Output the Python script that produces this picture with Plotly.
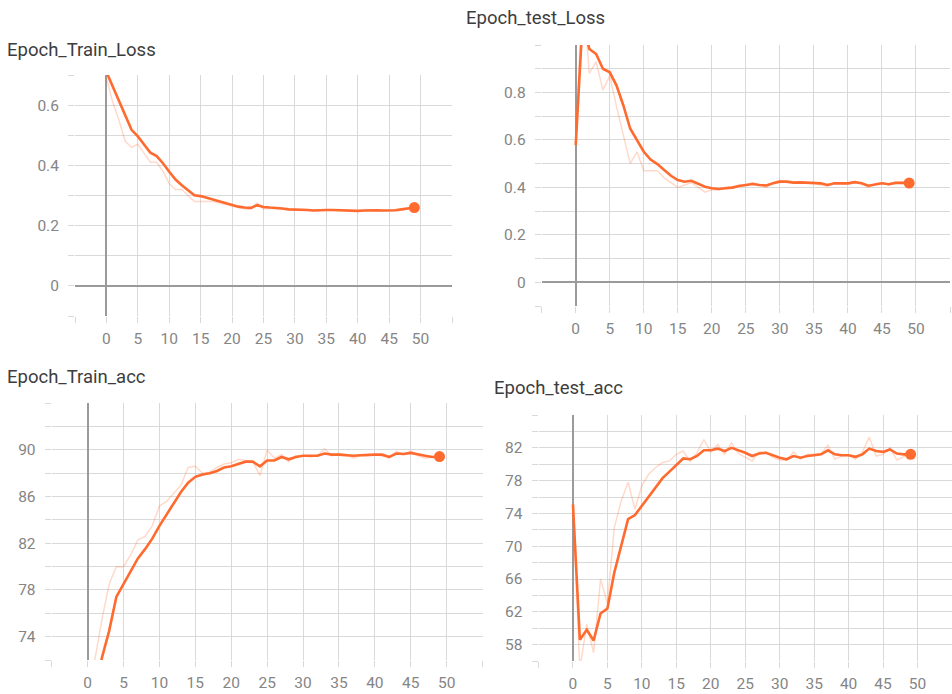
import plotly.graph_objects as go

epochs = list(range(50))

train_loss_smooth = [0.71, 0.662, 0.612, 0.562, 0.518, 0.496, 0.468, 0.442, 0.431, 0.407,
                     0.379, 0.353, 0.334, 0.318, 0.301, 0.298, 0.292, 0.285, 0.281, 0.274,
                     0.268, 0.263, 0.260, 0.259, 0.268, 0.262, 0.260, 0.259, 0.257, 0.254,
                     0.254, 0.253, 0.252, 0.250, 0.252, 0.252, 0.252, 0.251, 0.251, 0.250,
                     0.249, 0.250, 0.251, 0.251, 0.250, 0.250, 0.251, 0.254, 0.256, 0.260]
train_loss_raw = [0.69, 0.61, 0.55, 0.48, 0.46, 0.47, 0.44, 0.41, 0.41, 0.38,
                  0.34, 0.32, 0.32, 0.30, 0.28, 0.28, 0.28, 0.28, 0.275, 0.27,
                  0.265, 0.26, 0.255, 0.255, 0.275, 0.255, 0.258, 0.256, 0.255, 0.252,
                  0.253, 0.252, 0.251, 0.249, 0.253, 0.251, 0.252, 0.250, 0.251, 0.249,
                  0.248, 0.251, 0.252, 0.250, 0.249, 0.249, 0.252, 0.256, 0.257, 0.262]

test_loss_smooth = [0.578, 1.10, 0.983, 0.962, 0.900, 0.885, 0.829, 0.745, 0.648, 0.599,
                    0.550, 0.517, 0.498, 0.473, 0.449, 0.431, 0.424, 0.428, 0.417, 0.403,
                    0.396, 0.393, 0.396, 0.399, 0.406, 0.410, 0.414, 0.410, 0.408, 0.417,
                    0.424, 0.424, 0.420, 0.421, 0.420, 0.421, 0.417, 0.410, 0.417, 0.417,
                    0.417, 0.422, 0.417, 0.407, 0.413, 0.417, 0.413, 0.419, 0.419, 0.418]
test_loss_raw = [0.578, 1.25, 0.88, 0.93, 0.81, 0.87, 0.74, 0.62, 0.50, 0.55,
                 0.47, 0.47, 0.47, 0.44, 0.42, 0.40, 0.41, 0.42, 0.40, 0.38,
                 0.39, 0.39, 0.40, 0.40, 0.41, 0.41, 0.42, 0.41, 0.40, 0.42,
                 0.43, 0.42, 0.42, 0.42, 0.42, 0.42, 0.41, 0.405, 0.42, 0.415,
                 0.415, 0.425, 0.415, 0.40, 0.415, 0.42, 0.41, 0.42, 0.42, 0.418]

train_acc_smooth = [66.0, 69.3, 72.2, 74.5, 77.4, 78.5, 79.7, 80.7, 81.5, 82.4,
                    83.5, 84.5, 85.4, 86.4, 87.2, 87.7, 87.9, 88.0, 88.2, 88.5,
                    88.6, 88.8, 89.0, 89.0, 88.6, 89.1, 89.1, 89.4, 89.2, 89.4,
                    89.5, 89.5, 89.5, 89.7, 89.6, 89.6, 89.55, 89.5, 89.55, 89.6,
                    89.6, 89.6, 89.4, 89.7, 89.65, 89.75, 89.6, 89.5, 89.4, 89.43]
train_acc_raw = [67.0, 72.0, 75.5, 78.5, 80.0, 80.0, 81.0, 82.3, 82.6, 83.5,
                 85.2, 85.6, 86.3, 87.0, 88.5, 88.6, 88.0, 88.1, 88.5, 88.8,
                 88.9, 89.2, 89.1, 89.0, 87.8, 90.0, 89.3, 89.6, 89.0, 89.5,
                 89.5, 89.4, 89.5, 90.1, 89.5, 89.7, 89.6, 89.3, 89.5, 89.5,
                 89.6, 89.5, 89.3, 89.9, 89.6, 89.9, 89.5, 89.3, 89.4, 89.4]

test_acc_smooth = [75.1, 58.6, 59.8, 58.5, 61.8, 62.4, 66.8, 70.1, 73.3, 73.8,
                   74.9, 76.1, 77.2, 78.3, 79.1, 79.9, 80.7, 80.6, 81.0, 81.7,
                   81.7, 81.9, 81.6, 82.0, 81.7, 81.4, 81.0, 81.3, 81.4, 81.1,
                   80.8, 80.6, 81.0, 80.8, 81.0, 81.1, 81.2, 81.7, 81.2, 81.1,
                   81.1, 80.9, 81.2, 81.9, 81.6, 81.5, 81.8, 81.3, 81.2, 81.2]
test_acc_raw = [75.1, 55.0, 60.5, 57.0, 66.0, 63.0, 72.3, 75.5, 77.8, 74.5,
                77.4, 78.8, 79.6, 80.2, 80.4, 81.2, 81.6, 80.3, 81.4, 83.0,
                81.5, 82.4, 81.2, 82.6, 81.3, 80.8, 80.4, 81.5, 81.5, 80.8,
                80.5, 80.5, 81.5, 80.6, 81.2, 81.2, 81.3, 82.3, 80.6, 81.0,
                81.1, 80.6, 81.5, 83.3, 81.0, 81.2, 82.0, 80.5, 80.9, 81.1]

titles = ["Epoch_Train_Loss", "Epoch_test_Loss", "Epoch_Train_acc", "Epoch_test_acc"]

x_tickvals = [-5, 0, 5, 10, 15, 20, 25, 30, 35, 40, 45, 50, 55]
x_ticktext = ["", "0", "5", "10", "15", "20", "25", "30", "35", "40", "45", "50", ""]

loss1_tickvals = [-0.1, 0, 0.1, 0.2, 0.3, 0.4, 0.5, 0.6, 0.7]
loss1_ticktext = ["", "0", "", "0.2", "", "0.4", "", "0.6", ""]
loss2_tickvals = [-0.1, 0, 0.1, 0.2, 0.3, 0.4, 0.5, 0.6, 0.7, 0.8, 0.9, 1.0]
loss2_ticktext = ["", "0", "", "0.2", "", "0.4", "", "0.6", "", "0.8", "", ""]
acc1_tickvals = [72, 74, 76, 78, 80, 82, 84, 86, 88, 90, 92, 94]
acc1_ticktext = ["", "74", "", "78", "", "82", "", "86", "", "90", "", ""]
acc2_tickvals = [56, 58, 60, 62, 64, 66, 68, 70, 72, 74, 76, 78, 80, 82, 84, 86]
acc2_ticktext = ["", "58", "", "62", "", "66", "", "70", "", "74", "", "78", "", "82", "", ""]

W, H = 952, 694
ORANGE = "#FF6A2F"
FAINT = "rgba(255,106,47,0.25)"
GRID = "#d9d9d9"
ZERO = "#9a9a9a"
TICKFONT = dict(family="Roboto", size=15.5, color="#858585")

panels = [
    dict(smooth=train_loss_smooth, raw=train_loss_raw, px=(75, 452), py=(75, 316),
         yr=[-0.1, 0.7], tv=loss1_tickvals, tt=loss1_ticktext, title_xy=(5, 50)),
    dict(smooth=test_loss_smooth, raw=test_loss_raw, px=(541.7, 950), py=(45, 306),
         yr=[-0.1, 1.0], tv=loss2_tickvals, tt=loss2_ticktext, title_xy=(464, 18)),
    dict(smooth=train_acc_smooth, raw=train_acc_raw, px=(51.7, 482.6), py=(403.3, 660),
         yr=[72, 94], tv=acc1_tickvals, tt=acc1_ticktext, title_xy=(5, 377)),
    dict(smooth=test_acc_smooth, raw=test_acc_raw, px=(538.5, 952), py=(415, 661),
         yr=[56, 86], tv=acc2_tickvals, tt=acc2_ticktext, title_xy=(492, 388)),
]

fig = go.Figure()
layout = dict(width=W, height=H, margin=dict(l=0, r=0, t=0, b=0),
              paper_bgcolor="white", plot_bgcolor="white", showlegend=False)
annotations = []

for i, p in enumerate(panels):
    n = "" if i == 0 else str(i + 1)
    xa, ya = "x" + n, "y" + n
    fig.add_trace(go.Scatter(x=epochs, y=p["raw"], mode="lines", xaxis=xa, yaxis=ya,
                             line=dict(color=FAINT, width=1.5), hoverinfo="skip"))
    fig.add_trace(go.Scatter(x=epochs, y=p["smooth"], mode="lines", xaxis=xa, yaxis=ya,
                             line=dict(color=ORANGE, width=2.6)))
    fig.add_trace(go.Scatter(x=[epochs[-1]], y=[p["smooth"][-1]], mode="markers",
                             xaxis=xa, yaxis=ya, cliponaxis=False,
                             marker=dict(color=ORANGE, size=11)))
    layout["xaxis" + n] = dict(
        domain=[p["px"][0] / W, p["px"][1] / W], range=[-5, 55], anchor=ya,
        tickvals=x_tickvals, ticktext=x_ticktext, showgrid=True, gridcolor=GRID,
        gridwidth=1.2, ticks="outside", ticklen=6, tickcolor=GRID, tickwidth=1.2,
        tickfont=TICKFONT, zeroline=True, zerolinecolor=ZERO, zerolinewidth=1.6,
        showline=False, ticklabelstandoff=2)
    layout["yaxis" + n] = dict(
        domain=[1 - p["py"][1] / H, 1 - p["py"][0] / H], range=p["yr"], anchor=xa,
        tickvals=p["tv"], ticktext=p["tt"], showgrid=True, gridcolor=GRID,
        gridwidth=1.2, ticks="outside", ticklen=6, tickcolor=GRID, tickwidth=1.2,
        tickfont=TICKFONT, zeroline=True, zerolinecolor=ZERO, zerolinewidth=1.6,
        showline=False, ticklabelstandoff=6)
    annotations.append(dict(text=titles[i], x=p["title_xy"][0] / W, y=1 - p["title_xy"][1] / H,
                            xref="paper", yref="paper", xanchor="left", yanchor="middle",
                            showarrow=False, font=dict(family="Roboto", size=18.5, color="#3d3d3d")))

layout["annotations"] = annotations
fig.update_layout(**layout)
fig.write_html("out.html")
